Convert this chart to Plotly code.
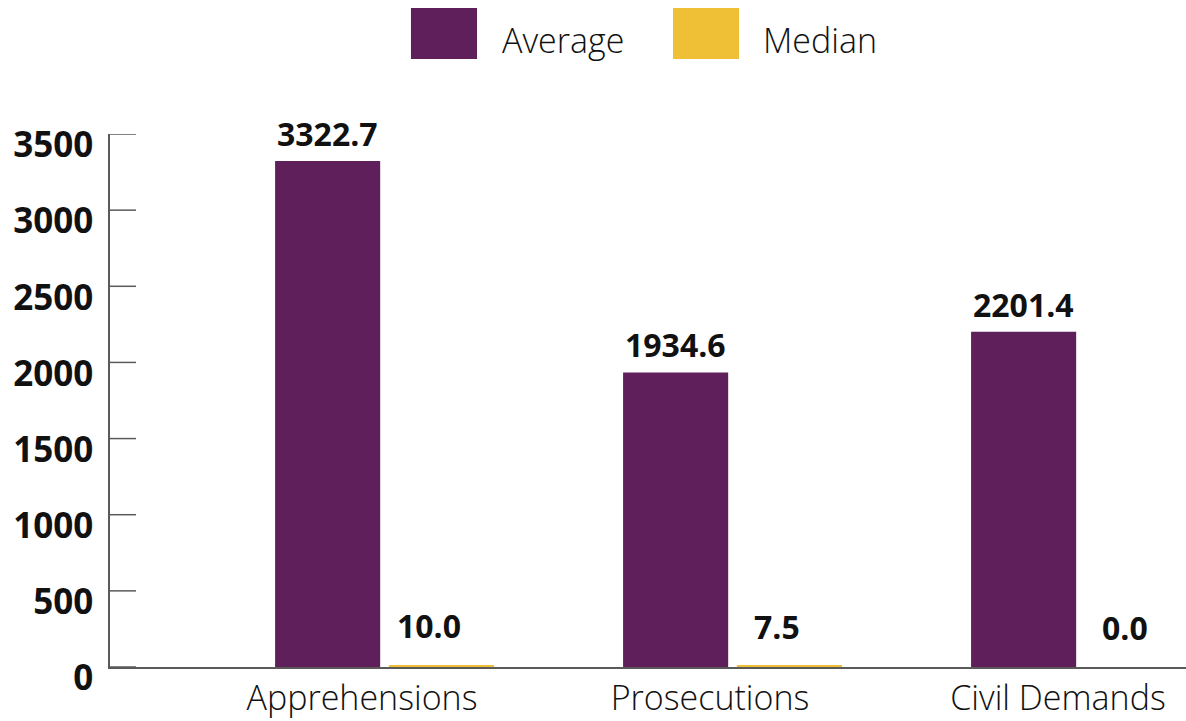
import plotly.graph_objects as go

# Data
categories = ["Apprehensions", "Prosecutions", "Civil Demands"]
average = [3322.7, 1934.6, 2201.4]
median = [10.0, 7.5, 0.0]
y_ticks = [0, 500, 1000, 1500, 2000, 2500, 3000, 3500]

PURPLE = "#5E1F5B"
YELLOW = "#EFBF35"
AXIS = "#5a5a5a"

BAR_W = 0.302
OFF_AVG = -0.162
OFF_MED = 0.165

xs = list(range(len(categories)))

fig = go.Figure()
fig.add_trace(go.Bar(x=[i + OFF_AVG for i in xs], y=average, width=BAR_W,
                     marker=dict(color=PURPLE, line=dict(width=0)), name="Average",
                     showlegend=False))
fig.add_trace(go.Bar(x=[i + OFF_MED for i in xs], y=median, width=BAR_W,
                     marker=dict(color=YELLOW, line=dict(width=0)), name="Median",
                     showlegend=False))

label_font = dict(family="Open Sans", size=32, color="#111111", weight=700)
annotations = []
for i, v in zip(xs, average):
    annotations.append(dict(x=i + OFF_AVG, y=v, xref="x", yref="y", text=f"{v:.1f}",
                            showarrow=False, yanchor="bottom", yshift=4, font=label_font))
for i, v in zip(xs, median):
    annotations.append(dict(x=i + OFF_MED, y=v, xref="x", yref="y", text=f"{v:.1f}",
                            showarrow=False, yanchor="bottom", yshift=16, xshift=-12,
                            font=label_font))

# Legend drawn as large swatches with text beside them
legend_font = dict(family="Open Sans", size=34, color="#111111", weight=300)
shapes = [
    dict(type="rect", xref="paper", yref="paper", x0=0.2797, x1=0.3411, y0=1.1407, y1=1.2364,
         fillcolor=PURPLE, line=dict(width=0)),
    dict(type="rect", xref="paper", yref="paper", x0=0.5232, x1=0.5846, y0=1.1407, y1=1.2364,
         fillcolor=YELLOW, line=dict(width=0)),
]
# Short tick marks pointing into the plot from the y axis line
for t in y_ticks:
    shapes.append(dict(type="line", xref="paper", yref="y", x0=0, x1=0.0242, y0=t, y1=t,
                       line=dict(color=AXIS, width=1.5), layer="above"))

annotations.append(dict(x=0.3625, y=1.177, xref="paper", yref="paper", text="Average",
                        showarrow=False, xanchor="left", yanchor="middle", font=legend_font))
annotations.append(dict(x=0.6050, y=1.177, xref="paper", yref="paper", text="Median",
                        showarrow=False, xanchor="left", yanchor="middle", font=legend_font))

fig.update_layout(
    width=1186, height=721,
    margin=dict(l=110, r=0, t=134, b=54),
    plot_bgcolor="white", paper_bgcolor="white",
    barmode="overlay",
    shapes=shapes,
    annotations=annotations,
)

fig.update_xaxes(
    range=[-0.7874, 2.3046],
    tickvals=xs, ticktext=categories,
    ticks="", showgrid=False, zeroline=False,
    showline=True, linecolor=AXIS, linewidth=1.5,
    tickfont=dict(family="Open Sans", size=34, color="#111111", weight=300),
    ticklabelshift=-22,
)
fig.update_yaxes(
    range=[0, 3500],
    tickvals=y_ticks,
    ticks="", showgrid=False, zeroline=False,
    showline=True, linecolor=AXIS, linewidth=1.5,
    tickfont=dict(family="Open Sans", size=35, color="#111111", weight=700),
    ticklabelstandoff=8,
    ticklabelshift=11,
)

fig.write_html("out.html")
